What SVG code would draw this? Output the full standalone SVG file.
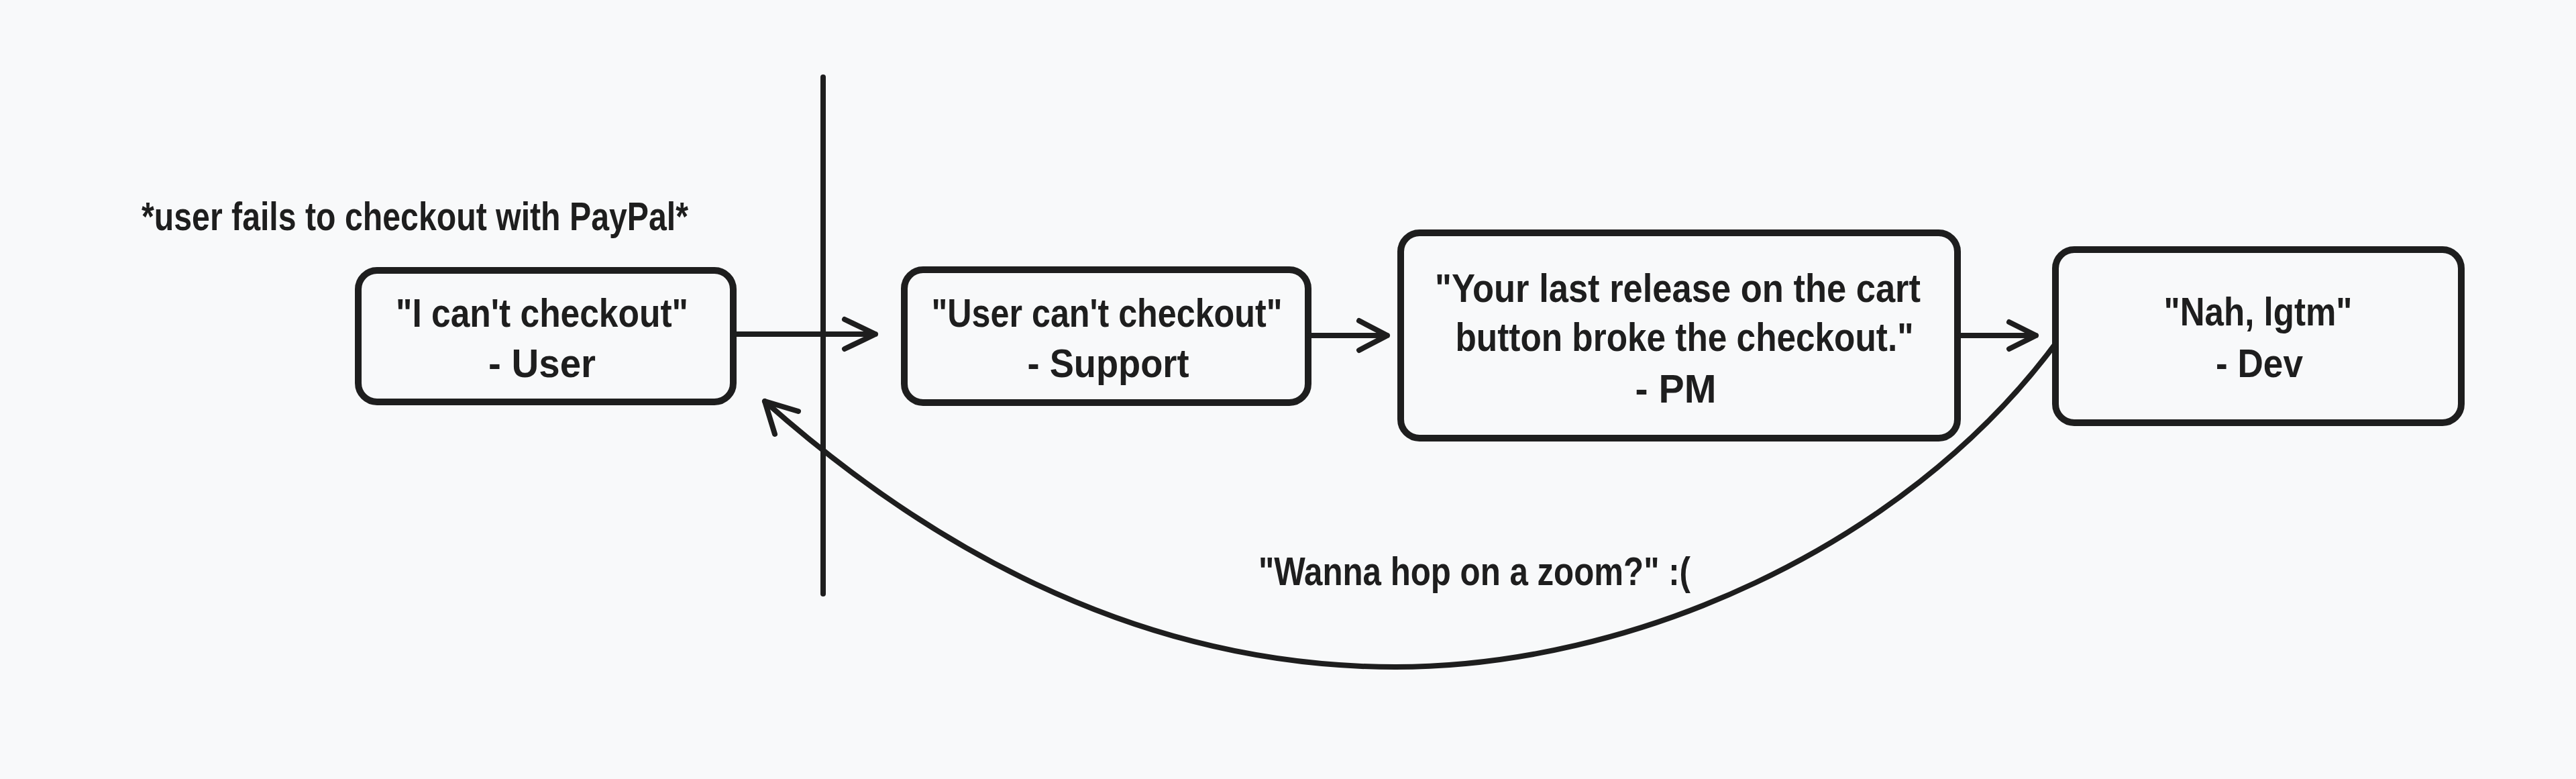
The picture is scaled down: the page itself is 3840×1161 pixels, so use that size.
<svg xmlns="http://www.w3.org/2000/svg" width="3840" height="1161" viewBox="0 0 3840 1161">
  <style>
    .box { fill: none; stroke: #1e1e1e; stroke-width: 10; stroke-linejoin: round; }
    .conn { fill: none; stroke: #1e1e1e; stroke-width: 8; stroke-linecap: round; stroke-linejoin: round; }
    .t { font-family: "Liberation Sans", "Noto Sans", sans-serif; font-size: 60px; font-weight: bold; fill: #1e1e1e; }
    .c { text-anchor: middle; }
  </style>
  <rect x="0" y="0" width="3840" height="1161" fill="#f8f9fa"/>

  <g id="caption-top">
    <text class="t" x="211" y="343" textLength="815" lengthAdjust="spacingAndGlyphs">*user fails to checkout with PayPal*</text>
  </g>

  <g id="divider">
    <line class="conn" x1="1227" y1="115" x2="1227" y2="885" stroke-width="7"/>
  </g>

  <g id="node-user">
    <rect class="box" x="534" y="403" width="559" height="196" rx="28"/>
    <text class="t c" x="808" y="487" textLength="436" lengthAdjust="spacingAndGlyphs">"I can't checkout"</text>
    <text class="t c" x="808" y="562" textLength="160" lengthAdjust="spacingAndGlyphs">- User</text>
  </g>

  <g id="node-support">
    <rect class="box" x="1348" y="402" width="602" height="198" rx="28"/>
    <text class="t c" x="1650" y="487" textLength="523" lengthAdjust="spacingAndGlyphs">"User can't checkout"</text>
    <text class="t c" x="1652" y="562" textLength="241" lengthAdjust="spacingAndGlyphs">- Support</text>
  </g>

  <g id="node-pm">
    <rect class="box" x="2088" y="347" width="830" height="306" rx="28"/>
    <text class="t c" x="2501" y="450" textLength="724" lengthAdjust="spacingAndGlyphs">"Your last release on the cart</text>
    <text class="t c" x="2511" y="523" textLength="683" lengthAdjust="spacingAndGlyphs">button broke the checkout."</text>
    <text class="t c" x="2498" y="600" textLength="121" lengthAdjust="spacingAndGlyphs">- PM</text>
  </g>

  <g id="node-dev">
    <rect class="box" x="3064" y="372" width="605" height="258" rx="28"/>
    <text class="t c" x="3366" y="485" textLength="281" lengthAdjust="spacingAndGlyphs">"Nah, lgtm"</text>
    <text class="t c" x="3368" y="562" textLength="130" lengthAdjust="spacingAndGlyphs">- Dev</text>
  </g>

  <g id="connectors">
    <path class="conn" d="M1097,498 L1305,498 M1259,476 L1305,498 L1259,520"/>
    <path class="conn" d="M1952,500 L2068,500 M2026,478 L2068,500 L2026,522"/>
    <path class="conn" d="M2920,500 L3035,500 M2995,480 L3035,500 L2995,520"/>
    <path class="conn" d="M3062,515 C2834,819 2430,994 2080,994 C1680,994 1364,797 1140,598"/>
    <path class="conn" d="M1190,613 L1140,598 L1155,647"/>
    <text class="t" x="1876" y="872" textLength="644" lengthAdjust="spacingAndGlyphs">"Wanna hop on a zoom?" :(</text>
  </g>
</svg>
